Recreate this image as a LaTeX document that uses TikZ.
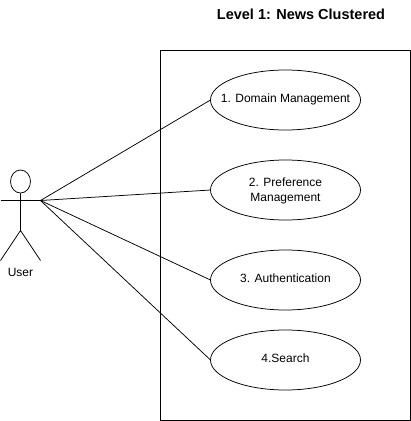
\documentclass[tikz,border=0pt]{standalone}
\usepackage{fontspec}
\setmainfont{Liberation Sans}
\usetikzlibrary{calc}
\usetikzlibrary{shapes.geometric}
\tikzset{
	usecase/.style={draw, ellipse, minimum width=150pt, minimum height=60pt, inner xsep=-30pt, inner ysep=0pt, outer sep=0pt, align=center, font=\fontsize{12}{15}\selectfont},
	oneline/.style={text depth=4pt},
	actorline/.style={line width=0.75pt},
}

\begin{document}
\begin{tikzpicture}[x=1pt, y=-1pt, line width=0.75pt]
	\useasboundingbox (0,0) rectangle (411,421);

	\node[font=\bfseries\fontsize{14.5}{16}\selectfont] (title) at (301,14.5) {Level 1: News Clustered};
	\node[draw, minimum width=250pt, minimum height=370pt, inner sep=0pt, outer sep=0pt] (system) at (285.5,235.5) {};

	\node[usecase, oneline] (uc1) at (285.5,100) {1. Domain Management};
	\node[usecase, text height=25.6pt] (uc2) at (285.5,190) {2. Preference\\Management};
	\node[usecase, oneline] (uc3) at (285.5,280) {3. Authentication};
	\node[usecase, oneline] (uc4) at (285.5,360) {4.Search};

	% stick figure
	\node[draw, ellipse, minimum width=20pt, minimum height=23pt, inner sep=0pt, outer sep=0pt, actorline] (head) at (20.5,181.5) {};
	\coordinate (armL) at (0.5,200.5);
	\coordinate (hand) at (40.5,200.5);
	\coordinate (hip) at (20.5,230.5);
	\coordinate (footL) at (0.5,260.5);
	\coordinate (footR) at (40.5,260.5);
	\draw[actorline] (armL) -- (hand);
	\draw[actorline] (head.south) -- (hip);
	\draw[actorline] (footL) -- (hip) -- (footR);
	\node[font=\fontsize{12}{15}\selectfont] (user) at (20.5,272) {User};

	\foreach \s in {1,...,4} {
		\draw (hand) -- (uc\s.west);
	}
\end{tikzpicture}
\end{document}
